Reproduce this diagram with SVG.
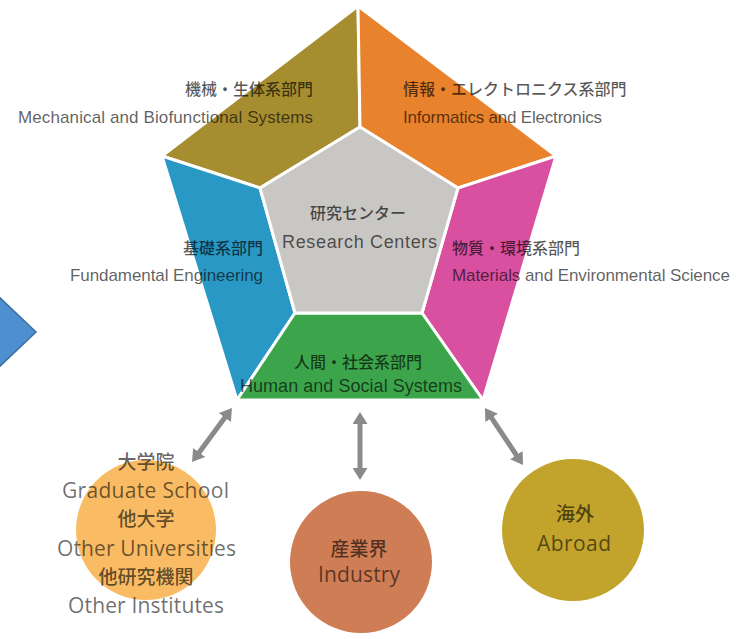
<svg xmlns="http://www.w3.org/2000/svg" width="750" height="639" viewBox="0 0 750 639">
<style>
.seg{stroke:#fff;stroke-width:3;stroke-linejoin:round}
.jp{font-family:"Noto Sans CJK JP","Noto Sans",sans-serif;font-size:16px;font-weight:500;fill:#000;fill-opacity:0.66}
.en{font-family:"Liberation Sans","Noto Sans",sans-serif;font-size:17px;fill:#000;fill-opacity:0.64}
.cjp{font-family:"Noto Sans CJK JP","Noto Sans",sans-serif;font-size:19px;font-weight:500;fill:#000;fill-opacity:0.62}
.cen{font-family:"Open Sans","Noto Sans",sans-serif;font-size:21px;fill:#000;fill-opacity:0.58}
.arr{stroke:#8a8a8a;stroke-width:5;fill:none}
</style>
<defs>
<marker id="ah" viewBox="0 0 12 15" refX="6" refY="7.5" markerWidth="12" markerHeight="15" markerUnits="userSpaceOnUse" orient="auto-start-reverse">
<path d="M0,0 L12,7.5 L0,15 z" fill="#8a8a8a"/>
</marker>
</defs>
<rect width="750" height="639" fill="#fff"/>
<g id="chevron">
<polygon points="-2,296 36,332 -2,368" fill="#4E8FCF" stroke="#3B6FA3" stroke-width="1.5"/>
</g>
<g id="mech">
<polygon class="seg" points="358,6 360,127 260,188 162,156" fill="#A68E30"/>
</g>
<g id="info">
<polygon class="seg" points="358,6 556,156 458,188 360,127" fill="#E9822C"/>
</g>
<g id="fund">
<polygon class="seg" points="162,156 260,188 295,313 237,400" fill="#2A98C4"/>
</g>
<g id="mat">
<polygon class="seg" points="556,156 483,400 422,313 458,188" fill="#D950A0"/>
</g>
<g id="human">
<polygon class="seg" points="295,313 422,313 483,400 237,400" fill="#3CA54B"/>
</g>
<g id="center">
<polygon class="seg" points="360,127 458,188 422,313 295,313 260,188" fill="#C8C7C4"/>
</g>
<g id="labels">
<text class="jp" x="313" y="95" text-anchor="end">機械・生体系部門</text>
<text class="en" x="313" y="123" text-anchor="end" textLength="295">Mechanical and Biofunctional Systems</text>
<text class="jp" x="403" y="95">情報・エレクトロニクス系部門</text>
<text class="en" x="403" y="123" textLength="199">Informatics and Electronics</text>
<text class="jp" x="358" y="219" text-anchor="middle">研究センター</text>
<text class="en" x="282" y="248" textLength="155" style="font-size:18px">Research Centers</text>
<text class="jp" x="263" y="254" text-anchor="end">基礎系部門</text>
<text class="en" x="70" y="281" textLength="193">Fundamental Engineering</text>
<text class="jp" x="452" y="254">物質・環境系部門</text>
<text class="en" x="452" y="281" textLength="278">Materials and Environmental Science</text>
<text class="jp" x="358" y="368" text-anchor="middle">人間・社会系部門</text>
<text class="en" x="240" y="392" textLength="222" style="font-size:18px">Human and Social Systems</text>
</g>
<g id="connectors">
<line class="arr" x1="228.4" y1="412.8" x2="195.6" y2="457.2" marker-start="url(#ah)" marker-end="url(#ah)"/>
<line class="arr" x1="360" y1="418" x2="360" y2="474" marker-start="url(#ah)" marker-end="url(#ah)"/>
<line class="arr" x1="488.3" y1="413" x2="519.7" y2="460" marker-start="url(#ah)" marker-end="url(#ah)"/>
</g>
<g id="graduate">
<circle cx="146" cy="530" r="70" fill="#F9BC64"/>
<text class="cjp" x="146" y="469" text-anchor="middle">大学院</text>
<text class="cen" x="62" y="498" textLength="167">Graduate School</text>
<text class="cjp" x="146" y="526" text-anchor="middle">他大学</text>
<text class="cen" x="57" y="556" textLength="179">Other Universities</text>
<text class="cjp" x="146" y="584" text-anchor="middle">他研究機関</text>
<text class="cen" x="68" y="613" textLength="156">Other Institutes</text>
</g>
<g id="industry">
<circle cx="361" cy="562" r="71" fill="#CF7D55"/>
<text class="cjp" x="359" y="556" text-anchor="middle">産業界</text>
<text class="cen" x="318" y="582" textLength="82">Industry</text>
</g>
<g id="abroad">
<circle cx="573" cy="530" r="71" fill="#C2A32B"/>
<text class="cjp" x="575" y="521" text-anchor="middle">海外</text>
<text class="cen" x="537" y="551" textLength="74">Abroad</text>
</g>
</svg>
